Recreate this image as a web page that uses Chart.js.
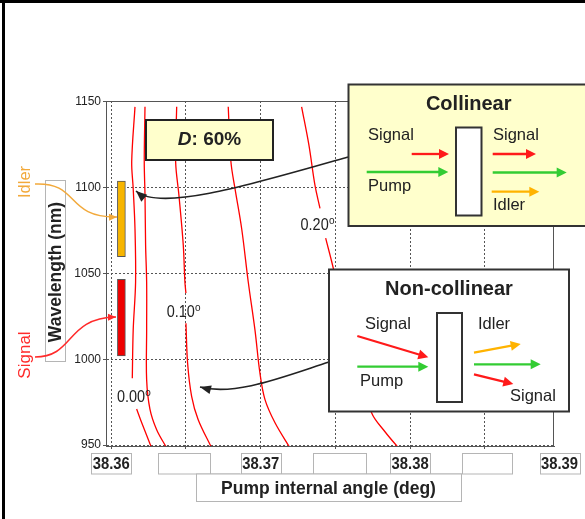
<!DOCTYPE html>
<html lang="en">
<head>
<meta charset="UTF-8">
<title>Pump internal angle vs wavelength</title>
<style>
    body { margin: 0; background: #fff; }
    canvas { display: block; }
</style>
</head>
<body>
<canvas id="chart" width="585" height="519"></canvas>
<script src="https://cdn.jsdelivr.net/npm/chart.js"></script>
<script>
// axis ticks
const xTicks = [38.36, 38.365, 38.37, 38.375, 38.38, 38.385];
const xLabelValues = [38.36, 38.37, 38.38, 38.39];
const yTicks = [950, 1000, 1050, 1100, 1150];

// contour lines (null = gap where the label sits)
const curve000X = [38.36159, 38.36137, 38.36147, 38.36159, 38.36163, 38.36147, 38.36141, null, 38.36170, 38.36204, 38.36270];
const curve000Y = [1147, 1115, 1099.5, 1076, 1045, 1017, 989, null, 971, 963, 948.4];
const curve005X = [38.36226, 38.36221, 38.36226, 38.36230, 38.36237, 38.36237, 38.36237, 38.36259, 38.36304, 38.36371];
const curve005Y = [1147, 1115, 1095.6, 1066.6, 1045, 1017, 988, 971, 959, 948.4];
const curve010X = [38.36438, 38.36431, 38.36453, 38.36482, 38.36493, 38.36500, null, 38.36500, 38.36511, 38.36538, 38.36582, 38.36672];
const curve010Y = [1147, 1115, 1095.6, 1066.6, 1045, 1038.5, null, 1021, 997.8, 978.4, 964.8, 948.4];
const curve015X = [38.36783, 38.36801, 38.36828, 38.36873, 38.36917, 38.36962, 38.36995, 38.37029, 38.37096, 38.37196];
const curve015Y = [1147, 1115, 1099.5, 1076, 1045, 1017, 992, 976.5, 963, 948.4];
const curve020X = [38.37274, 38.37323, 38.37363, 38.37397, null, 38.37435, 38.37486, 38.37598, 38.37743, 38.37832, 38.37932];
const curve020Y = [1147, 1124.7, 1101.5, 1087.9, null, 1070.5, 1053, 1008.4, 968.7, 957.8, 947.4];

// contour labels
const contourLabels = ['0.00', '0.10', '0.20'];
const contourLabelX = [38.36132, 38.36465, 38.37361];
const contourLabelY = [977.6, 1027.6, 1077.9];

// idler / signal bands
const bandNames = ['Idler', 'Signal'];
const bandX = [38.36068, 38.36068];
const bandLow = [1059.8, 1002];
const bandHigh = [1103.8, 1046.6];
const bandColors = ['#f7b500', '#ee0000'];

const FF = 'Arial, "Liberation Sans", sans-serif';
const font = (w, s) => `${w} ${s}px ${FF}`;

// split a curve at nulls into separate line datasets
function curveSets(xs, ys) {
    const sets = [];
    let cur = [];
    xs.forEach((x, i) => {
        if (x === null || ys[i] === null) {
            if (cur.length) sets.push(cur);
            cur = [];
        } else {
            cur.push({ x: x, y: ys[i] });
        }
    });
    if (cur.length) sets.push(cur);
    return sets.map(pts => ({
        type: 'line',
        data: pts,
        borderColor: '#ff0000',
        borderWidth: 1.3,
        pointRadius: 0,
        tension: 0.35,
        fill: false
    }));
}

const datasets = [
    ...curveSets(curve000X, curve000Y),
    ...curveSets(curve005X, curve005Y),
    ...curveSets(curve010X, curve010Y),
    ...curveSets(curve015X, curve015Y),
    ...curveSets(curve020X, curve020Y),
    {
        type: 'bar',
        label: bandNames.join('/'),
        data: bandX.map((x, i) => ({ x: x, y: [bandLow[i], bandHigh[i]] })),
        backgroundColor: bandColors,
        borderColor: '#555',
        borderWidth: 1,
        borderSkipped: false,
        barThickness: 8
    }
];

function drawText(ctx, s, x, y, o) {
    ctx.save();
    ctx.translate(x, y);
    if (o.rot) ctx.rotate(o.rot);
    ctx.scale(o.sx || 1, 1);
    ctx.font = o.font;
    ctx.fillStyle = o.color || '#222';
    ctx.textAlign = o.align || 'center';
    ctx.textBaseline = 'middle';
    ctx.fillText(s, 0, 0);
    ctx.restore();
}

function head(ctx, x, y, ang, len, half, color) {
    ctx.save();
    ctx.fillStyle = color;
    ctx.translate(x, y);
    ctx.rotate(ang);
    ctx.beginPath();
    ctx.moveTo(0, 0);
    ctx.lineTo(-len, -half);
    ctx.lineTo(-len, half);
    ctx.closePath();
    ctx.fill();
    ctx.restore();
}

function arrow(ctx, x0, y0, x1, y1, color) {
    const ang = Math.atan2(y1 - y0, x1 - x0);
    ctx.save();
    ctx.strokeStyle = color;
    ctx.lineWidth = 2.3;
    ctx.beginPath();
    ctx.moveTo(x0, y0);
    ctx.lineTo(x1 - 8 * Math.cos(ang), y1 - 8 * Math.sin(ang));
    ctx.stroke();
    ctx.restore();
    head(ctx, x1, y1, ang, 10, 5, color);
}

function curveArrow(ctx, p0, c1, c2, p3, color, w, len, half) {
    ctx.save();
    ctx.strokeStyle = color;
    ctx.lineWidth = w;
    ctx.beginPath();
    ctx.moveTo(p0[0], p0[1]);
    ctx.bezierCurveTo(c1[0], c1[1], c2[0], c2[1], p3[0], p3[1]);
    ctx.stroke();
    ctx.restore();
    head(ctx, p3[0], p3[1], Math.atan2(p3[1] - c2[1], p3[0] - c2[0]), len, half, color);
}

function box(ctx, x, y, w, h, fill, stroke, lw) {
    ctx.save();
    ctx.fillStyle = fill;
    ctx.fillRect(x, y, w, h);
    ctx.strokeStyle = stroke;
    ctx.lineWidth = lw;
    ctx.strokeRect(x, y, w, h);
    ctx.restore();
}

const decorations = {
    id: 'decorations',
    beforeDraw(chart) {
        const ctx = chart.ctx;
        ctx.save();
        ctx.fillStyle = '#fff';
        ctx.fillRect(0, 0, chart.width, chart.height);
        ctx.restore();
    },
    beforeDatasetsDraw(chart) {
        const { ctx, chartArea: a } = chart;
        ctx.save();
        ctx.strokeStyle = '#555';
        ctx.lineWidth = 1;
        ctx.beginPath();
        ctx.moveTo(a.left, a.top + 0.5);
        ctx.lineTo(a.right - 0.5, a.top + 0.5);
        ctx.lineTo(a.right - 0.5, a.bottom);
        ctx.stroke();
        ctx.restore();
    },
    afterDraw(chart) {
        const ctx = chart.ctx;
        const xs = chart.scales.x, ys = chart.scales.y;

        // frame
        ctx.fillStyle = '#000';
        ctx.fillRect(0, 0, 585, 3);
        ctx.fillRect(2, 0, 3, 519);

        // contour labels
        contourLabels.forEach((t, i) => {
            const px = xs.getPixelForValue(contourLabelX[i]);
            const py = ys.getPixelForValue(contourLabelY[i]);
            drawText(ctx, t, px, py, { font: font('normal', 17), sx: 0.85 });
            ctx.font = font('normal', 17);
            const hw = ctx.measureText(t).width * 0.85 / 2;
            drawText(ctx, 'o', px + hw + 3, py - 4, { font: font('normal', 10) });
        });

        // x tick labels in boxes
        const gray = '#b5b5b5';
        [[158, 210], [313, 366], [462, 512]].forEach(b => box(ctx, b[0] + 0.5, 453.5, b[1] - b[0], 20.5, '#fff', gray, 1));
        ctx.save();
        ctx.strokeStyle = gray;
        ctx.lineWidth = 1;
        ctx.beginPath();
        [[210, 240], [280, 313], [366, 390], [430, 462]].forEach(s => {
            ctx.moveTo(s[0], 474); ctx.lineTo(s[1], 474);
        });
        ctx.stroke();
        ctx.restore();
        xLabelValues.forEach(v => {
            const cx = xs.getPixelForValue(v);
            box(ctx, Math.round(cx - 20) + 0.5, 453.5, 40, 20.5, '#fff', gray, 1);
            drawText(ctx, v.toFixed(2), cx, 464.5, { font: font('bold', 17), sx: 0.87 });
        });
        box(ctx, 196.5, 474, 265, 27.5, '#fff', gray, 1);
        drawText(ctx, 'Pump internal angle (deg)', 328.5, 489, { font: font('bold', 17.5) });

        // y title
        box(ctx, 45.5, 180.5, 20, 181, '#fff', gray, 1);
        drawText(ctx, 'Wavelength (nm)', 56, 272, { font: font('bold', 17.5), rot: -Math.PI / 2 });

        // idler / signal tags
        drawText(ctx, bandNames[0], 25, 182, { font: font('normal', 16.5), color: '#f2a93b', rot: -Math.PI / 2 });
        drawText(ctx, bandNames[1], 25, 355, { font: font('normal', 17), color: '#ff2a2a', rot: -Math.PI / 2 });
        curveArrow(ctx, [35, 184], [80, 182], [65, 218], [117, 217], '#f2a93b', 1.5, 8, 3.5);
        curveArrow(ctx, [35, 357], [75, 357], [65, 318], [116, 317], '#ff2a2a', 1.5, 8, 3.5);

        // D box
        box(ctx, 146, 120, 127, 40, '#ffffcc', '#222', 2);
        ctx.font = font('italic bold', 19);
        const wD = ctx.measureText('D').width;
        ctx.font = font('bold', 19);
        const wR = ctx.measureText(': 60%').width;
        const sx0 = 209.5 - (wD + wR) / 2;
        drawText(ctx, 'D', sx0, 140, { font: font('italic bold', 19), align: 'left' });
        drawText(ctx, ': 60%', sx0 + wD, 140, { font: font('bold', 19), align: 'left' });

        // connectors
        curveArrow(ctx, [348, 157], [250, 185], [160, 212], [136, 191], '#222', 1.6, 11, 4.5);
        curveArrow(ctx, [329, 362], [280, 378], [235, 396], [200, 387], '#222', 1.6, 11, 4.5);

        // collinear box
        box(ctx, 348.5, 84.5, 245, 141.5, '#ffffcc', '#333', 2);
        drawText(ctx, 'Collinear', 468.7, 104.5, { font: font('bold', 20) });
        box(ctx, 456, 127.5, 25.5, 88, '#fff', '#333', 2);
        drawText(ctx, 'Signal', 368, 135, { font: font('normal', 16.5), align: 'left' });
        drawText(ctx, 'Pump', 368, 186, { font: font('normal', 16.5), align: 'left' });
        drawText(ctx, 'Signal', 493, 135, { font: font('normal', 16.5), align: 'left' });
        drawText(ctx, 'Idler', 493, 205, { font: font('normal', 16.5), align: 'left' });
        arrow(ctx, 411.7, 154, 449, 154, '#ff1a1a');
        arrow(ctx, 366.7, 172, 448.3, 172, '#33cc33');
        arrow(ctx, 492.7, 154, 536, 154, '#ff1a1a');
        arrow(ctx, 492.7, 172.5, 566.7, 172.5, '#33cc33');
        arrow(ctx, 491.7, 191.7, 539.3, 191.7, '#ffb300');

        // non-collinear box
        box(ctx, 329, 269.5, 240, 142, '#fff', '#333', 2);
        drawText(ctx, 'Non-collinear', 449, 289, { font: font('bold', 20) });
        box(ctx, 437, 313, 25, 89, '#fff', '#333', 2);
        drawText(ctx, 'Signal', 365, 324, { font: font('normal', 16.5), align: 'left' });
        drawText(ctx, 'Pump', 360, 381, { font: font('normal', 16.5), align: 'left' });
        drawText(ctx, 'Idler', 478, 324, { font: font('normal', 16.5), align: 'left' });
        drawText(ctx, 'Signal', 510, 396, { font: font('normal', 16.5), align: 'left' });
        arrow(ctx, 357.3, 336, 428.3, 357.3, '#ff1a1a');
        arrow(ctx, 357.3, 366.7, 428.3, 366.7, '#33cc33');
        arrow(ctx, 474, 352.7, 520.7, 344, '#ffb300');
        arrow(ctx, 474, 364.3, 540.7, 364.3, '#33cc33');
        arrow(ctx, 474, 374.3, 513.3, 384, '#ff1a1a');
    }
};

new Chart(document.getElementById('chart').getContext('2d'), {
    type: 'line',
    data: { datasets: datasets },
    options: {
        responsive: false,
        animation: false,
        layout: { padding: { left: 0, top: 101, right: 31, bottom: 0 } },
        plugins: {
            legend: { display: false },
            tooltip: { enabled: false }
        },
        scales: {
            x: {
                type: 'linear',
                offset: false,
                min: 38.35965,
                max: 38.38963,
                afterBuildTicks: s => { s.ticks = xTicks.map(v => ({ value: v })); },
                afterFit: s => { s.height = 73; },
                ticks: { display: false },
                grid: { offset: false, color: '#555', lineWidth: 1, tickLength: 3, tickColor: '#555' },
                border: { display: true, color: '#555', width: 1, dash: [2, 2] }
            },
            y: {
                type: 'linear',
                min: 949.5,
                max: 1150.4,
                afterBuildTicks: s => { s.ticks = yTicks.map(v => ({ value: v })); },
                afterFit: s => { s.width = 106; },
                ticks: {
                    font: { family: FF, size: 12 },
                    color: '#222',
                    padding: 2,
                    callback: v => String(v)
                },
                grid: { color: '#555', lineWidth: 1, tickLength: 3, tickColor: '#555' },
                border: { display: true, color: '#555', width: 1, dash: [2, 2] }
            }
        }
    },
    plugins: [decorations]
});
</script>
</body>
</html>
